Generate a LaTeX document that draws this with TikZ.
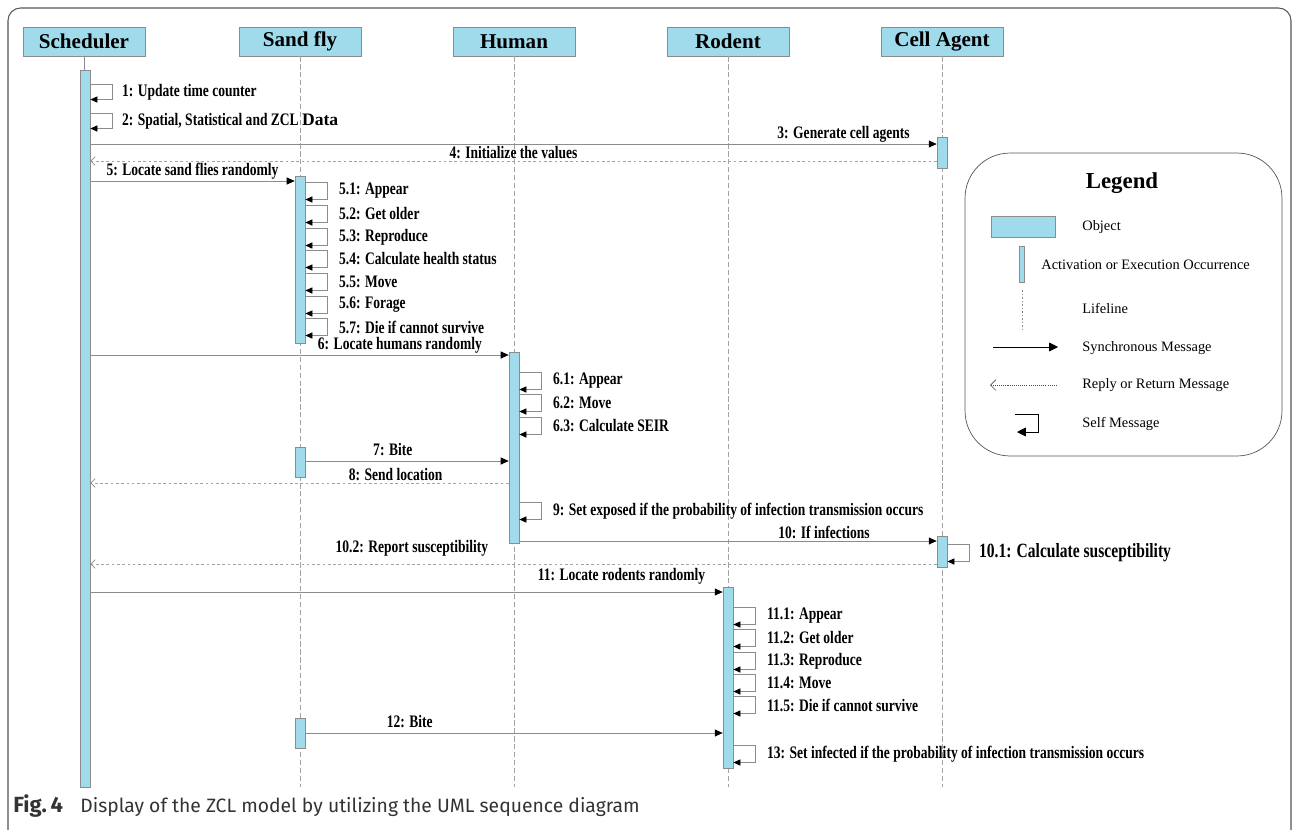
\documentclass[tikz,border=0pt]{standalone}
\usepackage{fontspec}
\setmainfont{Liberation Serif}
\setsansfont{Fira Sans}
\newfontfamily\condfont[FakeStretch=0.77]{Liberation Serif}
\usetikzlibrary{arrows.meta,calc,positioning}
\definecolor{objblue}{HTML}{9FDBEB}
\definecolor{linegray}{HTML}{8C8C8C}
\definecolor{framegray}{HTML}{555555}
\tikzset{
    objbox/.style={draw=linegray, fill=objblue, minimum width=2.44cm, minimum height=0.58cm, inner sep=0pt, font=\fontsize{12}{13}\selectfont\bfseries},
    actbar/.style={draw=linegray, fill=objblue, minimum width=0.2cm, inner sep=0pt},
    lifeline/.style={draw=linegray!80, dash pattern=on 3pt off 1.5pt, line width=0.3pt},
    msg/.style={draw=linegray, -{Triangle[black,length=4.5pt,width=4pt]}},
    reply/.style={draw=linegray!80, dash pattern=on 1.5pt off 1.5pt, -{Straight Barb[linegray,length=2.5pt,width=5pt]}},
    selfmsg/.style={draw=linegray, -{Triangle[black,length=4pt,width=3.5pt]}, to path={-- ++(22,0) |- (\tikztotarget)}},
    msgtext/.style={font=\condfont\fontsize{10}{11}\selectfont\bfseries, inner sep=1pt},
    selftext/.style={msgtext, anchor=west},
    legtext/.style={font=\fontsize{8.2}{10}\selectfont, anchor=west, inner sep=0pt}
}

\begin{document}
\begin{tikzpicture}[x=0.02cm,y=-0.02cm]
    \useasboundingbox (0,0) rectangle (1295,829);
    \draw[framegray, rounded corners=0.25cm, line width=0.6pt] (8,8) rectangle (1291,845);

    % objects
    \node[objbox] (sched) at (84,41.5) {Scheduler};
    \node[objbox] (sfly) at (300,41.5) {Sand fly};
    \node[objbox] (human) at (514,41.5) {Human};
    \node[objbox] (rodent) at (728,41.5) {Rodent};
    \node[objbox] (cell) at (942,41.5) {Cell Agent};

    % lifelines
    \coordinate (lend) at (0,787);
    \draw[linegray] (sched.south) -- (sched.south |- 0,70);
    \draw[lifeline] (sfly.south) -- (sfly.south |- lend);
    \draw[lifeline] (human.south) -- (human.south |- lend);
    \draw[lifeline] (rodent.south) -- (rodent.south |- lend);
    \draw[lifeline] (cell.south) -- (cell.south |- lend);

    % activation bars
    \node[actbar, minimum height=14.34cm] (schact) at (85,428.5) {};
    \node[actbar, minimum height=3.34cm] (sfact1) at (300,259.5) {};
    \node[actbar, minimum height=0.6cm] (sfact2) at (300,462) {};
    \node[actbar, minimum height=0.6cm] (sfact3) at (300,733) {};
    \node[actbar, minimum height=3.82cm] (humact) at (514,447.5) {};
    \node[actbar, minimum height=0.62cm] (cellact1) at (942,152.5) {};
    \node[actbar, minimum height=0.62cm] (cellact2) at (942,551.5) {};
    \node[actbar, minimum height=3.62cm] (rodact) at (728,677.5) {};

    % message levels
    \coordinate (m3) at (0,144);
    \coordinate (m4) at (0,161);
    \coordinate (m5) at (0,181);
    \coordinate (m6) at (0,355);
    \coordinate (m7) at (0,461);
    \coordinate (m8) at (0,483);
    \coordinate (m10) at (0,541);
    \coordinate (m102) at (0,564);
    \coordinate (m11) at (0,592);
    \coordinate (m12) at (0,733);

    % self message labels
    \node[selftext] (l1) at (120,92) {1: Update time counter};
    \node[selftext] (l2) at (120,121) {2: Spatial, Statistical and ZCL {\rmfamily Data}};
    \node[selftext] (l51) at (337,191) {5.1: Appear};
    \node[selftext] (l52) at (337,214) {5.2: Get older};
    \node[selftext] (l53) at (337,237) {5.3: Reproduce};
    \node[selftext] (l54) at (337,259) {5.4: Calculate health status};
    \node[selftext] (l55) at (337,282) {5.5: Move};
    \node[selftext] (l56) at (337,305) {5.6: Forage};
    \node[selftext] (l57) at (337,327) {5.7: Die if cannot survive};
    \node[selftext] (l61) at (551,381) {6.1: Appear};
    \node[selftext] (l62) at (551,403) {6.2: Move};
    \node[selftext] (l63) at (551,426) {6.3: Calculate SEIR};
    \node[selftext] (l9) at (551,511) {9: Set exposed if the probability of infection transmission occurs};
    \node[selftext, font=\condfont\fontsize{11.5}{13}\selectfont\bfseries] (l101) at (977,553) {10.1: Calculate susceptibility};
    \node[selftext] (l111) at (765,616) {11.1: Appear};
    \node[selftext] (l112) at (765,638) {11.2: Get older};
    \node[selftext] (l113) at (765,661) {11.3: Reproduce};
    \node[selftext] (l114) at (765,683) {11.4: Move};
    \node[selftext] (l115) at (765,705) {11.5: Die if cannot survive};
    \node[selftext] (l13) at (765,754) {13: Set infected if the probability of infection transmission occurs};

    % self messages
    \draw[selfmsg] ($(schact.east |- l1)+(0,-7.5)$) to ($(schact.east |- l1)+(0,7.5)$);
    \draw[selfmsg] ($(schact.east |- l2)+(0,-7.5)$) to ($(schact.east |- l2)+(0,7.5)$);
    \draw[selfmsg] ($(sfact1.east |- l51)+(0,-8.5)$) to ($(sfact1.east |- l51)+(0,8.5)$);
    \draw[selfmsg] ($(sfact1.east |- l52)+(0,-8.5)$) to ($(sfact1.east |- l52)+(0,8.5)$);
    \draw[selfmsg] ($(sfact1.east |- l53)+(0,-8.5)$) to ($(sfact1.east |- l53)+(0,8.5)$);
    \draw[selfmsg] ($(sfact1.east |- l54)+(0,-8.5)$) to ($(sfact1.east |- l54)+(0,8.5)$);
    \draw[selfmsg] ($(sfact1.east |- l55)+(0,-8.5)$) to ($(sfact1.east |- l55)+(0,8.5)$);
    \draw[selfmsg] ($(sfact1.east |- l56)+(0,-8.5)$) to ($(sfact1.east |- l56)+(0,8.5)$);
    \draw[selfmsg] ($(sfact1.east |- l57)+(0,-8.5)$) to ($(sfact1.east |- l57)+(0,8.5)$);
    \draw[selfmsg] ($(humact.east |- l61)+(0,-8.5)$) to ($(humact.east |- l61)+(0,8.5)$);
    \draw[selfmsg] ($(humact.east |- l62)+(0,-8.5)$) to ($(humact.east |- l62)+(0,8.5)$);
    \draw[selfmsg] ($(humact.east |- l63)+(0,-8.5)$) to ($(humact.east |- l63)+(0,8.5)$);
    \draw[selfmsg] ($(humact.east |- l9)+(0,-8.5)$) to ($(humact.east |- l9)+(0,8.5)$);
    \draw[selfmsg] ($(cellact2.east |- l101)+(0,-8.5)$) to ($(cellact2.east |- l101)+(0,8.5)$);
    \draw[selfmsg] ($(rodact.east |- l111)+(0,-8.5)$) to ($(rodact.east |- l111)+(0,8.5)$);
    \draw[selfmsg] ($(rodact.east |- l112)+(0,-8.5)$) to ($(rodact.east |- l112)+(0,8.5)$);
    \draw[selfmsg] ($(rodact.east |- l113)+(0,-8.5)$) to ($(rodact.east |- l113)+(0,8.5)$);
    \draw[selfmsg] ($(rodact.east |- l114)+(0,-8.5)$) to ($(rodact.east |- l114)+(0,8.5)$);
    \draw[selfmsg] ($(rodact.east |- l115)+(0,-8.5)$) to ($(rodact.east |- l115)+(0,8.5)$);
    \draw[selfmsg] ($(rodact.east |- l13)+(0,-8.5)$) to ($(rodact.east |- l13)+(0,8.5)$);

    % messages
    \draw[msg] (schact.east |- m3) -- (cellact1.west |- m3) node[msgtext, above, pos=0.89] {3: Generate cell agents};
    \draw[reply] (cellact1.west |- m4) -- (schact.east |- m4) node[msgtext, above, pos=0.5] {4: Initialize the values};
    \draw[msg] (schact.east |- m5) -- (sfact1.west |- m5) node[msgtext, above, pos=0.5] {5: Locate sand flies randomly};
    \draw[msg] (schact.east |- m6) -- (humact.west |- m6) node[msgtext, above, pos=0.74] {6: Locate humans randomly};
    \draw[msg] (sfact2.east |- m7) -- (humact.west |- m7) node[msgtext, above=2pt, pos=0.43] {7: Bite};
    \draw[reply] (humact.west |- m8) -- (schact.east |- m8) node[msgtext, above, pos=0.27] {8: Send location};
    \draw[msg] (humact.east |- m10) -- (cellact2.west |- m10) node[msgtext, above, pos=0.73] {10: If infections};
    \draw[reply] (cellact2.west |- m102) -- (schact.east |- m102) node[msgtext, above=3pt, pos=0.62] {10.2: Report susceptibility};
    \draw[msg] (schact.east |- m11) -- (rodact.west |- m11) node[msgtext, above=3pt, pos=0.84] {11: Locate rodents randomly};
    \draw[msg] (sfact3.east |- m12) -- (rodact.west |- m12) node[msgtext, above=2pt, pos=0.25] {12: Bite};

    % legend
    \node[draw=framegray, rounded corners=0.9cm, minimum width=6.34cm, minimum height=6.06cm] (legend) at (1123.5,304.5) {};
    \node[font=\fontsize{13}{14}\selectfont\bfseries] (legtitle) at (1122,183) {Legend};
    \node[actbar, minimum width=1.28cm, minimum height=0.42cm] (legobj) at (1023,226.5) {};
    \node[legtext] (legobjt) at (1082,227) {Object};
    \node[actbar, minimum width=0.1cm, minimum height=0.72cm] (legact) at (1021.5,264) {};
    \node[legtext] (legactt) at (1041,265) {Activation or Execution Occurrence};
    \node[legtext] (leglifet) at (1082,308) {Lifeline};
    \draw[linegray, dash pattern=on 1pt off 1pt] (1022,290) -- (1022,330);
    \node[legtext] (legsynt) at (1082,348) {Synchronous Message};
    \draw[black, -{Triangle[length=5pt,width=5pt]}] (993,347) -- (1058,347);
    \node[legtext] (legrept) at (1082,385) {Reply or Return Message};
    \draw[black!70, dash pattern=on 0.6pt off 0.6pt, -{Straight Barb[length=3pt,width=6pt]}] (1057,385) -- (990,385);
    \node[legtext] (legselft) at (1082,424) {Self Message};
    \draw[black, -{Triangle[length=5pt,width=5pt]}] (1015,414) -- (1038,414) -- (1038,432) -- (1017,432);

    % caption
    \node[anchor=west, inner sep=0pt, font=\sffamily\fontsize{11}{13}\selectfont, text=black!80] (caption) at (13,806) {{\fontsize{12.5}{13}\selectfont\textbf{Fig.\,4}}\hspace{0.9em}Display of the ZCL model by utilizing the UML sequence diagram};
\end{tikzpicture}
\end{document}
